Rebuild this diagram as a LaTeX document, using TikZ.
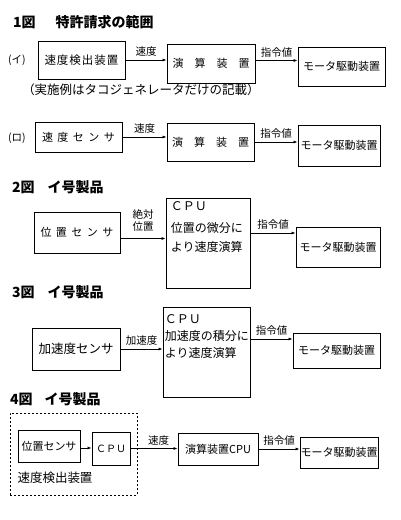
\documentclass[tikz,border=0pt]{standalone}
\usepackage{fontspec}
\setmainfont{Noto Sans CJK JP}
\usetikzlibrary{positioning, arrows.meta}
\newcommand{\spazio}{\hspace{4.5pt}}
\newcommand{\poco}{\hspace{1pt}}
\tikzset{
  blocco/.style={draw, line width=0.9pt, inner sep=0pt, font=\fontsize{11}{13}\selectfont},
  gruppo/.style={draw, line width=0.8pt, dash pattern=on 2pt off 2pt, inner sep=0pt},
  freccia/.style={-{Latex[length=4pt,width=3pt]}, line width=0.7pt},
  etichetta/.style={inner sep=1pt, font=\fontsize{10.5}{12}\selectfont},
  titolo/.style={anchor=west, inner sep=0pt, font=\bfseries\fontsize{14}{16}\selectfont},
  testocpu/.style={align=left, inner sep=0pt},
}

\begin{document}
\begin{tikzpicture}[x=1pt, y=-1pt]
    \useasboundingbox (0,0) rectangle (400,520);
    %titoli
        \node[titolo] (tit1) at (13,22) {1図\hspace{20pt}特許請求の範囲};
        \node[titolo] (tit2) at (12,187) {2図\hspace{13pt}イ号製品};
        \node[titolo] (tit3) at (12,292) {3図\hspace{13pt}イ号製品};
        \node[titolo] (tit4) at (10,399) {4図\hspace{12pt}イ号製品};
    %figura 1 (i)
        \node[etichetta] (lab1a) at (17,60) {(イ)};
        \node[blocco, minimum width=87pt, minimum height=38pt, font=\fontsize{11.5}{13}\selectfont] (sens1) at (81.5,60)
            {速\poco 度\poco 検\poco 出\poco 装\poco 置};
        \node[blocco, minimum width=88pt, minimum height=39pt] (calc1) at (211,63.5) {演　算　装　置};
        \node[blocco, minimum width=87pt, minimum height=39pt] (mot1) at (341.5,66.5) {モータ駆動装置};
        \draw[freccia] (sens1.east) -- (sens1.east -| calc1.west)
            node[etichetta, midway, above=2pt] (v1) {速度};
        \draw[freccia] ([yshift=3pt]calc1.east) -- ([yshift=3pt]calc1.east -| mot1.west)
            node[etichetta, midway, above=2pt] (c1) {指令値};
        \node[inner sep=0pt, font=\fontsize{12.5}{14}\selectfont] (nota1) at (141,90) {（実施例はタコジェネレータだけの記載）};
    %figura 1 (ro)
        \node[etichetta] (lab1b) at (17,138) {(ロ)};
        \node[blocco, minimum width=87pt, minimum height=30pt] (sens1b) at (78.5,137) {速\spazio 度\spazio セ\spazio ン\spazio サ};
        \node[blocco, minimum width=87pt, minimum height=38pt] (calc1b) at (210.5,142) {演　算　装　置};
        \node[blocco, minimum width=82pt, minimum height=41pt] (mot1b) at (339,145.5) {モータ駆動装置};
        \draw[freccia] (sens1b.east) -- (sens1b.east -| calc1b.west)
            node[etichetta, midway, above=2pt] (v1b) {速度};
        \draw[freccia] (calc1b.east) -- (calc1b.east -| mot1b.west)
            node[etichetta, midway, above=2pt] (c1b) {指令値};
    %figura 2
        \node[blocco, minimum width=86pt, minimum height=41pt] (pos2) at (77,232.5) {位\spazio 置\spazio セ\spazio ン\spazio サ};
        \node[blocco, minimum width=84pt, minimum height=90pt] (cpu2) at (208,243) {};
        \node[testocpu, font=\fontsize{12}{19}\selectfont, below right=4pt and 5pt of cpu2.north west] (cpu2t)
            {ＣＰＵ\\[3pt]位置の微分に\\より速度演算};
        \node[blocco, minimum width=84pt, minimum height=40pt] (mot2) at (338,247) {モータ駆動装置};
        \draw[freccia] ([yshift=-6pt]pos2.east) -- ([yshift=-6pt]pos2.east -| cpu2.west)
            node[etichetta, midway, above=6pt, align=center, font=\fontsize{10.5}{12}\selectfont] (v2) {絶対\\位置};
        \draw[freccia] ([yshift=10pt]cpu2.east) -- ([yshift=10pt]cpu2.east -| mot2.west)
            node[etichetta, midway, above=2pt] (c2) {指令値};
    %figura 3
        \node[blocco, minimum width=88pt, minimum height=42pt, font=\fontsize{12.5}{14}\selectfont] (acc3) at (76,349) {加速度センサ};
        \node[blocco, minimum width=87pt, minimum height=90pt] (cpu3) at (206.5,352) {};
        \node[testocpu, font=\fontsize{12}{17}\selectfont, below right=8pt and 2pt of cpu3.north west] (cpu3t)
            {ＣＰＵ\\加速度の積分に\\より速度演算};
        \node[blocco, minimum width=87pt, minimum height=35pt] (mot3) at (336.5,350.5) {モータ駆動装置};
        \draw[freccia] (acc3.east) -- (acc3.east -| cpu3.west)
            node[etichetta, midway, above=2pt] (v3) {加速度};
        \draw[freccia] ([yshift=13pt]cpu3.east) -- ([yshift=13pt]cpu3.east -| mot3.west)
            node[etichetta, midway, above=2pt] (c3) {指令値};
    %figura 4
        \node[gruppo, minimum width=127pt, minimum height=82pt] (grp4) at (73.5,454) {};
        \node[blocco, minimum width=62pt, minimum height=32pt] (pos4) at (49,446) {位置センサ};
        \node[blocco, minimum width=38pt, minimum height=33pt, font=\fontsize{10}{12}\selectfont] (cpu4) at (111,448.5) {ＣＰＵ};
        \node[blocco, minimum width=80pt, minimum height=32pt] (calc4) at (218,449) {演算装置CPU};
        \node[blocco, minimum width=78pt, minimum height=31pt] (mot4) at (339,452.5) {モータ駆動装置};
        \node[inner sep=0pt, font=\fontsize{12.5}{14}\selectfont] (det4) at (55,478) {速度検出装置};
        \draw[freccia] ([yshift=-2pt]pos4.east) -- ([yshift=-2pt]pos4.east -| cpu4.west);
        \draw[freccia] (cpu4.east) -- (cpu4.east -| calc4.west)
            node[etichetta, pos=0.6, above=2pt] (v4) {速度};
        \draw[freccia] (calc4.east) -- (calc4.east -| mot4.west)
            node[etichetta, midway, above=2pt] (c4) {指令値};
\end{tikzpicture}
\end{document}
